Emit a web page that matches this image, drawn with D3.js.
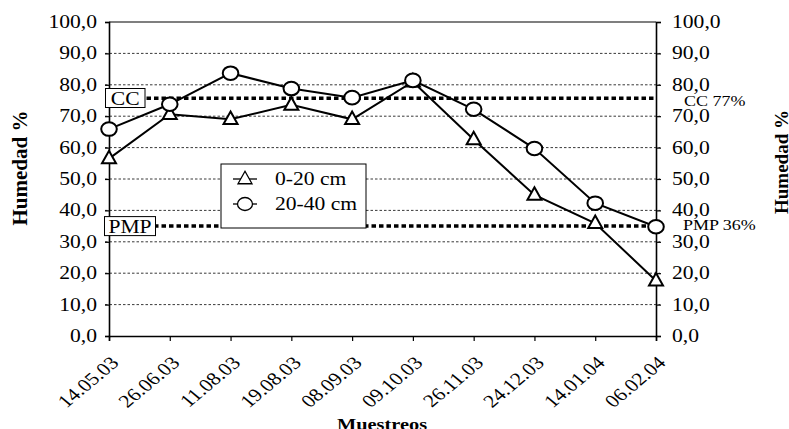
<!DOCTYPE html>
<html>
<head>
<meta charset="utf-8">
<script src="https://cdn.jsdelivr.net/npm/d3@7"></script>
<style>
  html, body { margin: 0; padding: 0; background: #fff; }
  svg { display: block; }
  text { font-family: "Liberation Serif", "Times New Roman", serif; fill: #000; }
</style>
</head>
<body>
<script>
// ---- data ----
const categories = ["14.05.03","26.06.03","11.08.03","19.08.03","08.09.03","09.10.03","26.11.03","24.12.03","14.01.04","06.02.04"];
const series0_20 = [56.5, 70.6, 69.0, 73.6, 69.0, 81.0, 62.6, 44.9, 35.9, 17.6];
const series20_40 = [65.9, 73.8, 83.7, 78.8, 75.9, 81.4, 72.2, 59.7, 42.3, 34.8];
const seriesNames = ["0-20 cm", "20-40 cm"];
const yTicks = [0,10,20,30,40,50,60,70,80,90,100];
const ccValue = 75.7, pmpValue = 35.0;
const ccLabel = "CC", pmpLabel = "PMP";
const ccRight = "CC 77%", pmpRight = "PMP 36%";
const yTitle = "Humedad %", xTitle = "Muestreos";

const W = 789, H = 429;
const SX = 1.2; // horizontal stretch of the original picture
const svg = d3.select("body").append("svg").attr("width", W).attr("height", H);
svg.append("rect").attr("width", W).attr("height", H).attr("fill", "#fff");

const x = d3.scalePoint().domain(categories).range([109, 656]).padding(0);
const y = d3.scaleLinear().domain([0, 100]).range([336, 22]);
const fmt = v => d3.format(".1f")(v).replace(".", ",");

function txt(g, px, py, s, size, anchor, extra) {
  return g.append("text")
    .attr("transform", `translate(${px},${py}) scale(${SX},1)` + (extra || ""))
    .attr("text-anchor", anchor)
    .style("font-size", size + "px")
    .text(s);
}

// gridlines
const grid = svg.append("g");
grid.selectAll("line").data(yTicks.filter(t => t > 0 && t < 100)).join("line")
  .attr("x1", 105).attr("x2", 660)
  .attr("y1", d => y(d)).attr("y2", d => y(d))
  .attr("stroke", "#222").attr("stroke-width", 0.9).attr("stroke-dasharray", "2.5,2");

// top border
svg.append("line").attr("x1", 109).attr("x2", 656).attr("y1", y(100)).attr("y2", y(100))
  .attr("stroke", "#000").attr("stroke-width", 1.2);

// axes using d3 axis generators
const leftAxis = svg.append("g").attr("transform", "translate(109,0)")
  .call(d3.axisLeft(y).tickValues(yTicks).tickSize(4).tickFormat(""));
const rightAxis = svg.append("g").attr("transform", "translate(656,0)")
  .call(d3.axisRight(y).tickValues(yTicks).tickSize(5).tickFormat(""));
const bottomAxis = svg.append("g").attr("transform", "translate(0,336)")
  .call(d3.axisBottom(x).tickSize(5).tickFormat(""));
[leftAxis, rightAxis, bottomAxis].forEach(a => {
  a.selectAll("path.domain").attr("stroke", "#000").attr("stroke-width", 1.6);
  a.selectAll(".tick line").attr("stroke", "#000").attr("stroke-width", 1.2);
});

// tick labels
const lab = svg.append("g");
yTicks.forEach(t => {
  txt(lab, 97, y(t) + 6, fmt(t), 18, "end");
  txt(lab, 672, y(t) + 6, fmt(t), 18, "start");
});
categories.forEach(c => {
  txt(lab, x(c) + 11, 364, c, 18, "end", " rotate(-45)");
});

// CC / PMP dashed lines
[ccValue, pmpValue].forEach(v => {
  svg.append("line").attr("x1", 109).attr("x2", 656).attr("y1", y(v)).attr("y2", y(v))
    .attr("stroke", "#000").attr("stroke-width", 3.5).attr("stroke-dasharray", "4.5,3");
});
// boxes on the left
function boxLabel(s, x0, x1, yc) {
  svg.append("rect").attr("x", x0).attr("y", yc - 9.5).attr("width", x1 - x0).attr("height", 19)
    .attr("fill", "#fff").attr("stroke", "#000").attr("stroke-width", 1);
  txt(svg, (x0 + x1) / 2, yc + 6.5, s, 18, "middle");
}
boxLabel(ccLabel, 105.5, 145, y(ccValue) - 0.3);
boxLabel(pmpLabel, 104.5, 155.5, y(pmpValue));
txt(svg, 684, 106, ccRight, 15, "start");
txt(svg, 683, 230, pmpRight, 15, "start");

// series lines
const line = d3.line().x((d, i) => x(categories[i])).y(d => y(d));
[series0_20, series20_40].forEach(s => {
  svg.append("path").datum(s).attr("d", line)
    .attr("fill", "none").attr("stroke", "#000").attr("stroke-width", 2);
});

// markers
const tri = (cx, cy) => {
  const w = 7, h = 12.5;
  return `M${cx},${cy - h * 0.62} L${cx + w},${cy + h * 0.38} L${cx - w},${cy + h * 0.38} Z`;
};
svg.append("g").selectAll("path").data(series0_20).join("path")
  .attr("d", (d, i) => tri(x(categories[i]), y(d)))
  .attr("fill", "#fff").attr("stroke", "#000").attr("stroke-width", 2);
svg.append("g").selectAll("ellipse").data(series20_40).join("ellipse")
  .attr("cx", (d, i) => x(categories[i])).attr("cy", d => y(d))
  .attr("rx", 7.8).attr("ry", 6.8)
  .attr("fill", "#fff").attr("stroke", "#000").attr("stroke-width", 2);

// legend
const lg = svg.append("g");
lg.append("rect").attr("x", 221).attr("y", 164).attr("width", 145).attr("height", 64)
  .attr("fill", "#fff").attr("stroke", "#000").attr("stroke-width", 1);
const rows = [179, 204];
rows.forEach((ry, i) => {
  lg.append("line").attr("x1", 233).attr("x2", 257).attr("y1", ry).attr("y2", ry)
    .attr("stroke", "#000").attr("stroke-width", 1.3);
  if (i === 0) {
    lg.append("path").attr("d", tri(245, ry)).attr("fill", "#fff").attr("stroke", "#000").attr("stroke-width", 1.3);
  } else {
    lg.append("ellipse").attr("cx", 245).attr("cy", ry).attr("rx", 7.5).attr("ry", 6.5)
      .attr("fill", "#fff").attr("stroke", "#000").attr("stroke-width", 1.3);
  }
  txt(lg, 275, ry + 6, seriesNames[i], 18, "start");
});

// axis titles
svg.append("text").attr("transform", "translate(27,168) rotate(-90)")
  .attr("text-anchor", "middle").style("font-size", "21px").style("font-weight", "bold").text(yTitle);
svg.append("text").attr("transform", "translate(788,162) rotate(-90)")
  .attr("text-anchor", "middle").style("font-size", "19px").style("font-weight", "bold").text(yTitle);
txt(svg, 382, 430, xTitle, 17, "middle").style("font-weight", "bold");
</script>
</body>
</html>
